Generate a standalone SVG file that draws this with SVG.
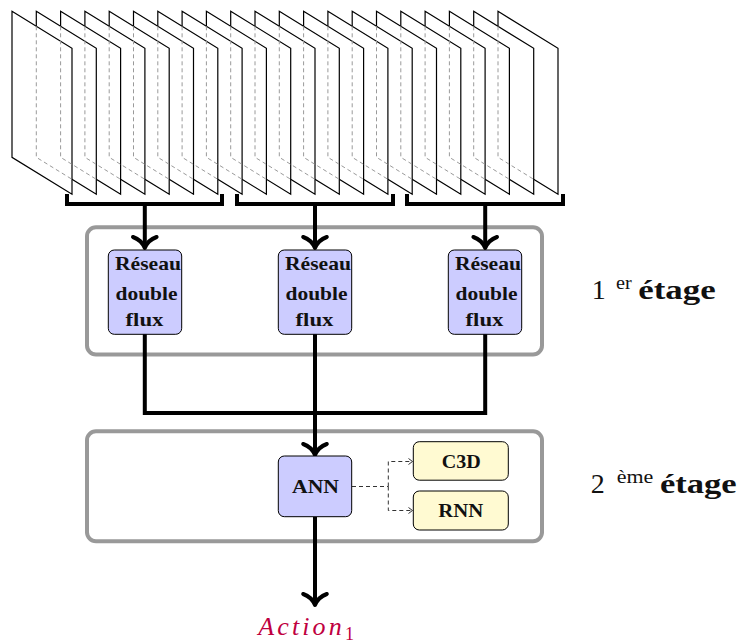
<svg xmlns="http://www.w3.org/2000/svg" xmlns:xlink="http://www.w3.org/1999/xlink" width="739" height="643" viewBox="0 0 739 643">
<style>
.frame{fill:#fff;stroke:#000;stroke-width:1.2;stroke-linejoin:miter}
.hid{fill:none;stroke:#9a9a9a;stroke-width:1;stroke-dasharray:4 3}
.stage{fill:none;stroke:#999;stroke-width:4}
.net{fill:#ccccff;stroke:#000;stroke-width:1}
.alt{fill:#fffad2;stroke:#000;stroke-width:1}
.thick{fill:none;stroke:#000;stroke-width:4;stroke-linejoin:miter}
.head{fill:none;stroke:#000;stroke-width:4;stroke-linecap:round;stroke-linejoin:round}
.dash{fill:none;stroke:#333;stroke-width:1;stroke-dasharray:4 3}
.small{fill:none;stroke:#333;stroke-width:1}
.bt{font-family:"Liberation Serif","DejaVu Serif",serif;font-weight:bold;font-size:19px;text-anchor:middle;fill:#111}
.lab{font-family:"Liberation Serif","DejaVu Serif",serif;font-size:28px;fill:#111}
.sup{font-family:"Liberation Serif","DejaVu Serif",serif;font-size:19px;fill:#111}
.act{font-family:"Liberation Serif","DejaVu Serif",serif;font-style:italic;font-size:26px;fill:#bf0040}
.sub{font-family:"Liberation Serif","DejaVu Serif",serif;font-size:18px;fill:#bf0040}
</style>
<defs>
<path id="fr" class="frame" d="M0,0 L60,37 L60,183 L0,146 Z"/>
<path id="hd" class="hid" d="M0,15 V146 L35.7,168"/>
</defs>
<g id="frames">
<use xlink:href="#fr" x="498" y="11.3"/>
<use xlink:href="#fr" x="473.7" y="11.3"/>
<use xlink:href="#fr" x="449.4" y="11.3"/>
<use xlink:href="#fr" x="425.1" y="11.3"/>
<use xlink:href="#fr" x="400.8" y="11.3"/>
<use xlink:href="#fr" x="376.5" y="11.3"/>
<use xlink:href="#fr" x="352.2" y="11.3"/>
<use xlink:href="#fr" x="327.9" y="11.3"/>
<use xlink:href="#fr" x="303.6" y="11.3"/>
<use xlink:href="#fr" x="279.3" y="11.3"/>
<use xlink:href="#fr" x="255" y="11.3"/>
<use xlink:href="#fr" x="230.7" y="11.3"/>
<use xlink:href="#fr" x="206.4" y="11.3"/>
<use xlink:href="#fr" x="182.1" y="11.3"/>
<use xlink:href="#fr" x="157.8" y="11.3"/>
<use xlink:href="#fr" x="133.5" y="11.3"/>
<use xlink:href="#fr" x="109.2" y="11.3"/>
<use xlink:href="#fr" x="84.9" y="11.3"/>
<use xlink:href="#fr" x="60.6" y="11.3"/>
<use xlink:href="#fr" x="36.3" y="11.3"/>
<use xlink:href="#fr" x="12" y="11.3"/>
<use xlink:href="#hd" x="36.3" y="11.3"/>
<use xlink:href="#hd" x="60.6" y="11.3"/>
<use xlink:href="#hd" x="84.9" y="11.3"/>
<use xlink:href="#hd" x="109.2" y="11.3"/>
<use xlink:href="#hd" x="133.5" y="11.3"/>
<use xlink:href="#hd" x="157.8" y="11.3"/>
<use xlink:href="#hd" x="182.1" y="11.3"/>
<use xlink:href="#hd" x="206.4" y="11.3"/>
<use xlink:href="#hd" x="230.7" y="11.3"/>
<use xlink:href="#hd" x="255" y="11.3"/>
<use xlink:href="#hd" x="279.3" y="11.3"/>
<use xlink:href="#hd" x="303.6" y="11.3"/>
<use xlink:href="#hd" x="327.9" y="11.3"/>
<use xlink:href="#hd" x="352.2" y="11.3"/>
<use xlink:href="#hd" x="376.5" y="11.3"/>
<use xlink:href="#hd" x="400.8" y="11.3"/>
<use xlink:href="#hd" x="425.1" y="11.3"/>
<use xlink:href="#hd" x="449.4" y="11.3"/>
<use xlink:href="#hd" x="473.7" y="11.3"/>
<use xlink:href="#hd" x="498" y="11.3"/>
</g>
<g id="stage1">
<rect class="stage" x="87" y="227.3" width="455" height="127.2" rx="9"/>
</g>
<g id="stage2">
<rect class="stage" x="87" y="431.3" width="455" height="110" rx="9"/>
</g>
<g id="connectors">
<path class="thick" d="M67,194 V204 H222 V194"/>
<path class="thick" d="M237,194 V204 H393 V194"/>
<path class="thick" d="M407,194 V204 H563 V194"/>
<path class="thick" d="M144.8,204 V247"/>
<path class="thick" d="M315,204 V247"/>
<path class="thick" d="M485.2,204 V247"/>
<path class="head" d="M133,237 Q141.5,240 144.8,248 Q148,240 156.6,237"/>
<path class="head" d="M303.2,237 Q311.7,240 315,248 Q318.3,240 326.8,237"/>
<path class="head" d="M473.4,237 Q481.9,240 485.2,248 Q488.5,240 497,237"/>
<path class="thick" d="M144.8,334 V413 H485.2 V334"/>
<path class="thick" d="M315,334 V454"/>
<path class="head" d="M303.2,444 Q311.7,447 315,455 Q318.3,447 326.8,444"/>
<path class="thick" d="M315,517 V604"/>
<path class="head" d="M303.2,594 Q311.7,597 315,605 Q318.3,597 326.8,594"/>
<path class="dash" d="M352,486.5 H388.3"/>
<path class="dash" d="M388.3,486.5 V461.5 H412"/>
<path class="dash" d="M388.3,486.5 V510.5 H412"/>
<path class="small" d="M408.5,458.5 L412.5,461.5 L408.5,464.5"/>
<path class="small" d="M408.5,507.5 L412.5,510.5 L408.5,513.5"/>
</g>
<g id="net1">
<rect class="net" x="108.3" y="250" width="73.4" height="84.3" rx="6"/>
<text class="bt" x="148" y="270" textLength="66" lengthAdjust="spacingAndGlyphs">Réseau</text>
<text class="bt" x="146.5" y="299.5" textLength="62" lengthAdjust="spacingAndGlyphs">double</text>
<text class="bt" x="144.5" y="325.5" textLength="38" lengthAdjust="spacingAndGlyphs">flux</text>
</g>
<g id="net2">
<rect class="net" x="278.3" y="250" width="73.4" height="84.3" rx="6"/>
<text class="bt" x="318" y="270" textLength="66" lengthAdjust="spacingAndGlyphs">Réseau</text>
<text class="bt" x="316.5" y="299.5" textLength="62" lengthAdjust="spacingAndGlyphs">double</text>
<text class="bt" x="314.5" y="325.5" textLength="38" lengthAdjust="spacingAndGlyphs">flux</text>
</g>
<g id="net3">
<rect class="net" x="448.3" y="250" width="73.4" height="84.3" rx="6"/>
<text class="bt" x="488" y="270" textLength="66" lengthAdjust="spacingAndGlyphs">Réseau</text>
<text class="bt" x="486.5" y="299.5" textLength="62" lengthAdjust="spacingAndGlyphs">double</text>
<text class="bt" x="484.5" y="325.5" textLength="38" lengthAdjust="spacingAndGlyphs">flux</text>
</g>
<g id="ann">
<rect class="net" x="278.3" y="456" width="73.4" height="60.7" rx="6"/>
<text class="bt" x="315.5" y="493" textLength="47" lengthAdjust="spacingAndGlyphs">ANN</text>
</g>
<g id="c3d">
<rect class="alt" x="413.3" y="441.7" width="95" height="38.5" rx="6"/>
<text class="bt" x="461.3" y="468" textLength="39" lengthAdjust="spacingAndGlyphs">C3D</text>
</g>
<g id="rnn">
<rect class="alt" x="413.3" y="491" width="95" height="39" rx="6"/>
<text class="bt" x="460.8" y="516.5" textLength="45" lengthAdjust="spacingAndGlyphs">RNN</text>
</g>
<g id="label1">
<text class="lab" x="591.7" y="299.3">1</text>
<text class="sup" x="616" y="288.5" textLength="15.7" lengthAdjust="spacingAndGlyphs">er</text>
<text class="lab" x="638.3" y="299.3" font-weight="bold" textLength="77.4" lengthAdjust="spacingAndGlyphs">étage</text>
</g>
<g id="label2">
<text class="lab" x="590.7" y="493.3">2</text>
<text class="sup" x="616.7" y="482.5" textLength="36.6" lengthAdjust="spacingAndGlyphs">ème</text>
<text class="lab" x="660" y="493.3" font-weight="bold" textLength="76.7" lengthAdjust="spacingAndGlyphs">étage</text>
</g>
<g id="output">
<text class="act" x="258.3" y="634.5" textLength="83.4">Action</text>
<text class="sub" x="345" y="639.5">1</text>
</g>
</svg>
